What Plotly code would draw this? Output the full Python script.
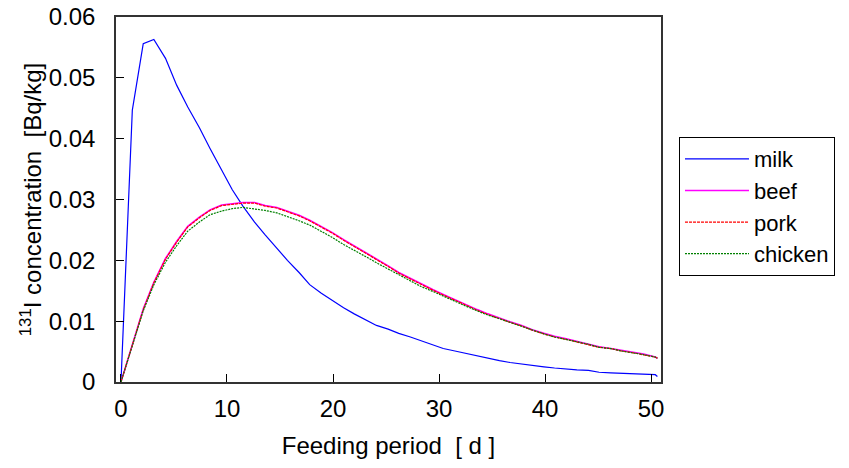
import plotly.graph_objects as go

days = [0, 1.07, 2.1, 3.1, 4.2, 5.25, 6.3, 7.4, 8.4, 9.5, 10.5, 11.5, 12.6, 13.6, 14.7,
        15.7, 16.8, 17.8, 18.9, 19.9, 21.0, 22.0, 23.1, 24.1, 25.2, 26.2, 27.3, 28.3,
        29.4, 30.4, 31.5, 32.5, 33.6, 34.6, 35.7, 36.7, 37.8, 38.8, 39.9, 40.9, 42.0,
        43.0, 44.1, 45.1, 46.2, 47.2, 48.3, 49.3, 50.4, 50.6]

milk = [0, 0.0447, 0.0556, 0.0563, 0.0532, 0.0488, 0.0452, 0.0418, 0.0384, 0.0348,
        0.0316, 0.0289, 0.0263, 0.0242, 0.0220, 0.0200, 0.0180, 0.0160, 0.0146, 0.0134,
        0.0122, 0.0112, 0.0102, 0.0093, 0.0087, 0.0080, 0.0074, 0.0068, 0.0062, 0.0055,
        0.0051, 0.0047, 0.0043, 0.0039, 0.0035, 0.0032, 0.0030, 0.0027, 0.0025, 0.0023,
        0.0021, 0.0020, 0.0019, 0.0016, 0.0015, 0.0014, 0.0014, 0.0013, 0.0012, 0.0009]

beef = [0, 0.0062, 0.0120, 0.0164, 0.0203, 0.0231, 0.0256, 0.0271, 0.0283, 0.0291,
        0.0293, 0.0295, 0.0295, 0.0290, 0.0287, 0.0281, 0.0274, 0.0266, 0.0256, 0.0246,
        0.0234, 0.0224, 0.0213, 0.0202, 0.0191, 0.0180, 0.0170, 0.0161, 0.0152, 0.0144,
        0.0135, 0.0127, 0.0119, 0.0112, 0.0105, 0.0099, 0.0093, 0.0086, 0.0080, 0.0075,
        0.0071, 0.0067, 0.0063, 0.0058, 0.0055, 0.0052, 0.0048, 0.0046, 0.0041, 0.0039]

pork = [0, 0.0062, 0.0119, 0.0163, 0.0202, 0.0230, 0.0255, 0.0270, 0.0282, 0.0290,
        0.0292, 0.0294, 0.0294, 0.0289, 0.0286, 0.0280, 0.0273, 0.0265, 0.0255, 0.0245,
        0.0233, 0.0223, 0.0212, 0.0201, 0.0190, 0.0179, 0.0169, 0.0160, 0.0151, 0.0143,
        0.0134, 0.0126, 0.0118, 0.0111, 0.0104, 0.0098, 0.0092, 0.0085, 0.0079, 0.0074,
        0.0070, 0.0066, 0.0062, 0.0057, 0.0055, 0.0051, 0.0048, 0.0045, 0.0041, 0.0039]

chicken = [0, 0.0060, 0.0117, 0.0160, 0.0197, 0.0224, 0.0248, 0.0263, 0.0275, 0.0281,
           0.0285, 0.0287, 0.0285, 0.0282, 0.0278, 0.0272, 0.0265, 0.0258, 0.0248, 0.0238,
           0.0226, 0.0217, 0.0206, 0.0196, 0.0186, 0.0176, 0.0166, 0.0157, 0.0149, 0.0141,
           0.0133, 0.0125, 0.0117, 0.0110, 0.0104, 0.0098, 0.0092, 0.0085, 0.0079, 0.0074,
           0.0070, 0.0066, 0.0062, 0.0057, 0.0055, 0.0051, 0.0048, 0.0045, 0.0041, 0.0039]

x_ticks = [0, 10, 20, 30, 40, 50]
y_ticks = [0, 0.01, 0.02, 0.03, 0.04, 0.05, 0.06]
y_tick_text = ["0", "0.01", "0.02", "0.03", "0.04", "0.05", "0.06"]

FONT = "Liberation Sans, Arial, sans-serif"

fig = go.Figure()
fig.add_trace(go.Scatter(x=days, y=milk, name="milk", mode="lines",
                         line=dict(color="#0000FF", width=1.2)))
fig.add_trace(go.Scatter(x=days, y=beef, name="beef", mode="lines",
                         line=dict(color="#FF00FF", width=1.6)))
fig.add_trace(go.Scatter(x=days, y=pork, name="pork", mode="lines",
                         line=dict(color="#FF0000", width=1.2, dash="3px,1px")))
fig.add_trace(go.Scatter(x=days, y=chicken, name="chicken", mode="lines",
                         line=dict(color="#008000", width=1.2, dash="2px,1px")))

fig.update_layout(
    width=849, height=468,
    margin=dict(l=116, r=188, t=17, b=86, autoexpand=False),
    paper_bgcolor="white", plot_bgcolor="white",
    font=dict(family=FONT, size=24, color="black"),
    showlegend=True,
    legend=dict(
        x=1.033, y=0.671, xanchor="left", yanchor="top",
        bordercolor="black", borderwidth=1, bgcolor="white",
        font=dict(family=FONT, size=22), itemwidth=64,
        tracegroupgap=0,
    ),
    xaxis=dict(
        range=[-0.47, 50.94], tickvals=x_ticks, ticks="inside", ticklen=8,
        tickcolor="black", showline=True, linecolor="#333", linewidth=1.5,
        mirror=True, showgrid=False, zeroline=False, automargin=False,
        tickfont=dict(family=FONT, size=24), ticklabelstandoff=4,
        ticklabeloverflow="allow",
        title=dict(text="Feeding period  [ d ]", font=dict(family=FONT, size=24), standoff=17),
    ),
    yaxis=dict(
        range=[0, 0.06], tickvals=y_ticks, ticktext=y_tick_text, ticks="inside",
        ticklen=8, tickcolor="black", showline=True, linecolor="#333", linewidth=1.5,
        mirror=True, showgrid=False, zeroline=False, automargin=False,
        tickfont=dict(family=FONT, size=24), ticklabelstandoff=14,
        ticklabeloverflow="allow",
        title=dict(text="<sup>131</sup>I concentration  [Bq/kg]", font=dict(family=FONT, size=24), standoff=0),
    ),
)

# remove the browser's default 8px body margin so the figure fills the window
fig.write_html("out.html", config={"displayModeBar": False},
               post_script="document.body.style.margin='0';")
